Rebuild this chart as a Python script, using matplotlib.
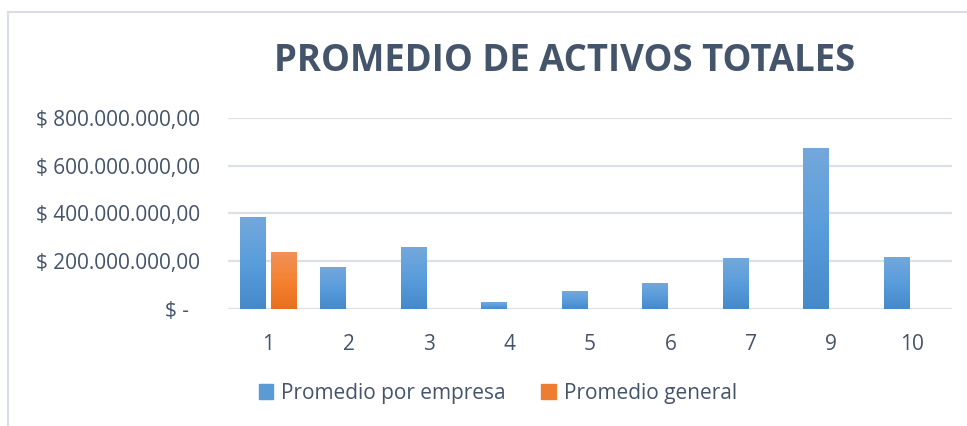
import numpy as np
import matplotlib
matplotlib.use("Agg")
import matplotlib.pyplot as plt
from matplotlib.colors import LinearSegmentedColormap
from matplotlib.patches import Rectangle
from matplotlib.ticker import FuncFormatter

plt.rcParams['font.family'] = ['Open Sans', 'DejaVu Sans']

TEXT = '#44546A'
GRID = '#DCE1E7'

categories = ['1', '2', '3', '4', '5', '6', '7', '9', '10']
promedio_empresa = [385e6, 176e6, 259e6, 29e6, 75e6, 109e6, 213e6, 674e6, 218e6]
promedio_general = [238e6, 0, 0, 0, 0, 0, 0, 0, 0]

blue_grad = LinearSegmentedColormap.from_list('b', ['#4689C9', '#5A9DDC', '#74A8DB'])
orange_grad = LinearSegmentedColormap.from_list('o', ['#E86F1E', '#F58232', '#F09258'])

W, H = 967, 426
fig = plt.figure(figsize=(W / 100, H / 100), dpi=100)

# chart border (only top/left visible in the crop)
fig.add_artist(plt.Line2D([8 / W, 8 / W], [0, 1 - 12 / H], color='#D9DEE6', lw=1.5))
fig.add_artist(plt.Line2D([8 / W, 1], [1 - 12 / H, 1 - 12 / H], color='#D9DEE6', lw=1.5))

ax = fig.add_axes([228 / W, (H - 309) / H, 724 / W, (309 - 117.7) / H])

x = np.arange(len(categories))
width = 0.323
b1 = ax.bar(x - 0.19, promedio_empresa, width, color='#5B9BD5', zorder=2)
b2 = ax.bar(x + 0.197, promedio_general, width, color='#ED7D31', zorder=2)


def gradient(bars, cmap):
    grad = np.linspace(0, 1, 256).reshape(-1, 1)
    for p in bars:
        if p.get_height() <= 0:
            continue
        x0, y0 = p.get_x(), p.get_y()
        im = ax.imshow(grad, cmap=cmap, origin='lower', aspect='auto',
                       extent=[x0, x0 + p.get_width(), y0, y0 + p.get_height()],
                       zorder=3, interpolation='bicubic')
        im.set_clip_path(p)


gradient(b1, blue_grad)
gradient(b2, orange_grad)

ax.set_xlim(-0.5, len(categories) - 0.5)
ax.set_ylim(0, 800e6)
ax.set_yticks(np.arange(0, 800e6 + 1, 200e6))


def fmt(v, pos):
    if v == 0:
        return '$ -  '
    s = f'{v:,.2f}'.replace(',', 'X').replace('.', ',').replace('X', '.')
    return '$ ' + s


ax.yaxis.set_major_formatter(FuncFormatter(fmt))
ax.set_xticks(x)
ax.set_xticklabels(categories)
ax.tick_params(axis='both', length=0, labelsize=15, colors=TEXT)
ax.tick_params(axis='y', pad=20)
ax.tick_params(axis='x', pad=18)
ax.grid(axis='y', color=GRID, lw=1.6, zorder=0)
for s in ax.spines.values():
    s.set_visible(False)

fig.text(565 / W, 1 - 61 / H, 'PROMEDIO DE ACTIVOS TOTALES', ha='center', va='center',
         fontsize=26.3, fontweight='bold', color=TEXT)

handles = [Rectangle((0, 0), 1, 1, color='#5B9BD5'), Rectangle((0, 0), 1, 1, color='#ED7D31')]
fig.legend(handles, ['Promedio por empresa', 'Promedio general'], loc='center',
           bbox_to_anchor=(498 / W, 1 - 393 / H), ncol=2, frameon=False,
           fontsize=15, labelcolor=TEXT, handlelength=0.7, handleheight=0.7,
           handletextpad=0.4, columnspacing=1.7)

fig.savefig('out.png', dpi=100)
